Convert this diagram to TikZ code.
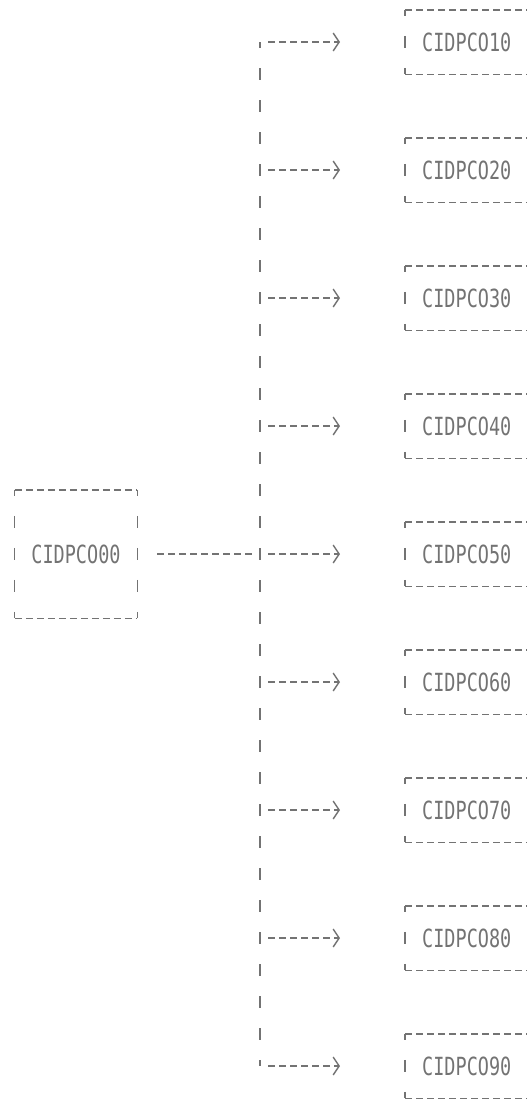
\documentclass[tikz,border=0pt]{standalone}
\usepackage{fontspec}
\newfontfamily\dotfont[FakeStretch=0.74]{DejaVu Sans Mono}
\usetikzlibrary{arrows.meta}
\definecolor{ink}{gray}{0.45}
\tikzset{
  hline/.style={draw=ink, line width=1.4pt, dash pattern=on 7pt off 4pt},
  vline/.style={draw=ink, line width=1.2pt, dash pattern=on 12pt off 20pt, dash phase=6pt},
  prog/.style={font=\dotfont\fontsize{25}{25}\selectfont, text=ink, inner sep=0pt},
}

\begin{document}
\begin{tikzpicture}[x=1pt, y=-1pt]
  \useasboundingbox (0,0) rectangle (527,1101);
  % main program
  \node[prog, minimum width=122pt, minimum height=128pt] (root) at (76,554) {CIDPCO00};
  \draw[hline] (root.north west) -- (root.north east);
  \draw[hline] (root.south west) -- (root.south east);
  \draw[vline] (root.north west) -- (root.south west);
  \draw[vline] (root.north east) -- (root.south east);
  % trunk
  \foreach \i in {1,...,9}
    \coordinate (t\i) at (260, {42+128*(\i-1)});
  \draw[vline] (t1) -- (t9);
  \draw[hline, shorten <=20pt, shorten >=5pt] (root.east) -- (t5);
  % called programs
  \foreach \i in {1,...,9} {
    \node[prog, anchor=west, text width=150pt, align=left, inner xsep=17pt, minimum height=64pt]
      (c\i) at (405, {42+128*(\i-1)}) {CIDPCO\i0};
    \draw[hline] (c\i.north west) -- (c\i.north east);
    \draw[hline] (c\i.south west) -- (c\i.south east);
    \draw[vline] (c\i.north west) -- (c\i.south west);
    \draw[hline, shorten <=8pt, shorten >=65pt, -{Straight Barb[length=6pt, width=18pt, line width=1.4pt]}]
      (t\i) -- (c\i.west);
  }
\end{tikzpicture}
\end{document}
